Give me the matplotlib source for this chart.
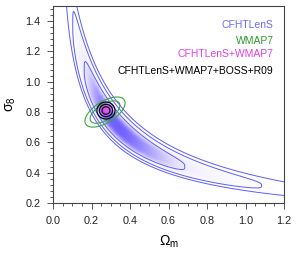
import numpy as np
import matplotlib.pyplot as plt
from matplotlib.colors import LinearSegmentedColormap

plt.rcParams['font.family'] = ['Liberation Sans', 'DejaVu Sans']

# CFHTLenS degeneracy ridge (Omega_m, sigma_8)
ridge_om = [0.10, 0.166, 0.28, 0.61, 1.16]
ridge_s8 = [1.40, 1.06, 0.80, 0.47, 0.30]
# tips of the 68% and 95% CFHTLenS contours along the ridge (Omega_m)
tips_68 = [0.166, 0.70]
tips_95 = [0.10, 1.06]
band_w = 0.100      # across-ridge width (log sigma_8)
band_p = 3.5

# WMAP7
wmap_center = [0.27, 0.80]
wmap_sig = [0.042, 0.040]
wmap_rho = 0.6
wmap_levels = [3.4, 6.17]

# CFHTLenS+WMAP7
cw_center = [0.28, 0.815]
cw_sig = [0.012, 0.015]

# CFHTLenS+WMAP7+BOSS+R09
all_center = [0.275, 0.81]
all_sig = [0.0137, 0.0163]

levels = [2.30, 6.17, 11.8]

labels = ['CFHTLenS', 'WMAP7', 'CFHTLenS+WMAP7', 'CFHTLenS+WMAP7+BOSS+R09']
label_colors = ['#6a6aff', '#2e9a2e', '#e040e8', 'black']
label_y = [0.904, 0.822, 0.756, 0.670]

blue = '#5c5cff'
green = '#3aa53a'
magenta = '#dd44ee'

om = np.linspace(0.01, 1.3, 500)
s8 = np.linspace(0.15, 1.7, 500)
X, Y = np.meshgrid(om, s8)

# CFHTLenS banana
coef = np.polyfit(np.log(ridge_om), np.log(ridge_s8), 2)
u = np.log(X)
v = np.log(Y)
b = v - np.polyval(coef, u)
t68 = np.log(tips_68)
t95 = np.log(tips_95)
u0 = 0.5 * (t68.mean() + t95.mean())
sig_a = 0.5 * ((t68[1] - t68[0]) / 2 / np.sqrt(2.30) + (t95[1] - t95[0]) / 2 / np.sqrt(6.17))
chi_lens = ((u - u0) / sig_a) ** 2 + (np.abs(b) / band_w) ** band_p


def gauss_chi(c, s, rho=0.0):
    dx = (X - c[0]) / s[0]
    dy = (Y - c[1]) / s[1]
    return (dx ** 2 - 2 * rho * dx * dy + dy ** 2) / (1 - rho ** 2)


chi_wmap = gauss_chi(wmap_center, wmap_sig, wmap_rho)
chi_cw = gauss_chi(cw_center, cw_sig)
chi_all = gauss_chi(all_center, all_sig)

fig = plt.figure(figsize=(2.98, 2.57), dpi=100)
ax = fig.add_axes([0.178, 0.21, 0.775, 0.767])

cmap = LinearSegmentedColormap.from_list('lens', ['white', '#eeebff', '#b0a4ff', '#7060ff'])
dens = np.exp(-chi_lens / 2)
ax.pcolormesh(X, Y, dens, cmap=cmap, shading='auto', vmin=0, vmax=1, rasterized=True)
ax.contour(X, Y, chi_lens, levels=levels, colors=blue, linewidths=0.7)

ax.contour(X, Y, chi_wmap, levels=wmap_levels, colors=green, linewidths=0.8)

ax.contourf(X, Y, chi_cw, levels=[0, 2.30], colors=['#d85ce8'])
ax.contour(X, Y, chi_cw, levels=[2.30, 6.17], colors=magenta, linewidths=0.8)
ax.contour(X, Y, chi_all, levels=levels, colors='black', linewidths=0.8)

ax.set_xlim(0, 1.2)
ax.set_ylim(0.2, 1.5)
ax.set_xticks(np.arange(0, 1.21, 0.2))
ax.set_xticklabels(['%.1f' % x for x in np.arange(0, 1.21, 0.2)])
ax.set_yticks(np.arange(0.2, 1.41, 0.2))
ax.set_yticklabels(['%.1f' % y for y in np.arange(0.2, 1.41, 0.2)])
ax.set_xticks(np.arange(0, 1.21, 0.05), minor=True)
ax.set_yticks(np.arange(0.2, 1.5, 0.04), minor=True)
ax.tick_params(which='both', direction='out', top=False, right=False,
               color='#555555', labelsize=7.8, labelcolor='#222222', width=0.7)
ax.tick_params(which='major', length=4, pad=5)
ax.tick_params(which='minor', length=2.2)
for sp in ax.spines.values():
    sp.set_color('#444444')
    sp.set_linewidth(0.8)

ax.set_xlabel('$\\mathregular{Ω_m}$', fontsize=10, labelpad=6)
ax.set_ylabel('$\\mathregular{σ_8}$', fontsize=10, labelpad=5)

for lab, col, yy in zip(labels, label_colors, label_y):
    ax.text(0.955, yy, lab, color=col, fontsize=7.5, ha='right', va='center',
            transform=ax.transAxes)

fig.savefig('out.png', dpi=100)
